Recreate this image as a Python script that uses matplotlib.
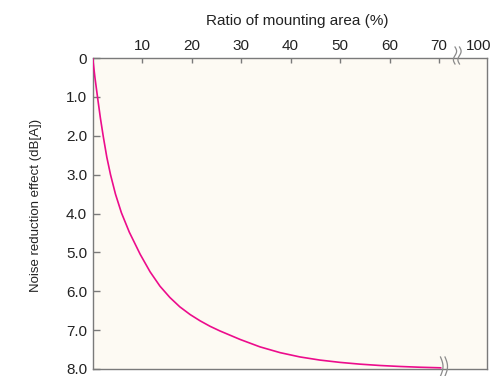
import numpy as np
import matplotlib
matplotlib.use("Agg")
import matplotlib.pyplot as plt

# ---- data ----
ratio = [0, 0.45, 1.0, 1.55, 2.15, 2.85, 3.6, 4.6, 5.8, 7.4, 9.6, 11.6, 13.6, 15.6, 17.6,
         19.7, 21.7, 23.7, 25.7, 29.8, 33.8, 37.9, 41.9, 45.9, 50.0, 54.0, 58.1, 62.1, 66.2, 70.5]
effect = [0, 0.5, 1.03, 1.54, 2.03, 2.55, 3.0, 3.5, 3.98, 4.48, 5.05, 5.5, 5.87, 6.16, 6.4,
          6.6, 6.76, 6.9, 7.02, 7.24, 7.43, 7.58, 7.69, 7.77, 7.83, 7.875, 7.91, 7.935, 7.955, 7.97]
x_ticks = [10, 20, 30, 40, 50, 60, 70]
x_tick_labels = ["10", "20", "30", "40", "50", "60", "70"]
x_end_label = "100"
y_ticks = [0, 1, 2, 3, 4, 5, 6, 7, 8]
y_tick_labels = ["0", "1.0", "2.0", "3.0", "4.0", "5.0", "6.0", "7.0", "8.0"]

plt.rcParams['font.family'] = ['Liberation Sans', 'DejaVu Sans']

W, H = 494, 376
fig = plt.figure(figsize=(W / 100, H / 100), dpi=100)
L, R, T, B = 92.7, 487.0, 58.0, 369.0
ax = fig.add_axes([L / W, 1 - B / H, (R - L) / W, (B - T) / H])
ax.set_facecolor('#fdfaf3')

ax.plot(ratio, effect, color='#ec0c8c', lw=1.2, solid_capstyle='butt',
        solid_joinstyle='round', zorder=3)

ax.set_xlim(0, 79.7)
ax.set_ylim(8, 0)

ax.xaxis.tick_top()
ax.set_xticks(x_ticks + [78.1])
ax.set_xticklabels(x_tick_labels + [x_end_label])
ax.set_yticks(y_ticks)
ax.set_yticklabels(y_tick_labels)

spine_col = '#7a7a7a'
for s in ax.spines.values():
    s.set_color(spine_col)
    s.set_linewidth(1.0)

ax.tick_params(axis='x', direction='in', length=3.6, width=1.0, color=spine_col,
               labelsize=11, labelcolor='#222222', pad=3.5)
ax.tick_params(axis='y', direction='in', length=4.8, width=1.0, color=spine_col,
               labelsize=11, labelcolor='#222222', pad=4)
# no tick mark for the "100" label at the corner
xt = ax.xaxis.get_major_ticks()
xt[-1].tick2line.set_visible(False)
xt[-1].tick1line.set_visible(False)

fig.text(297 / W, 1 - 21 / H, "Ratio of mounting area (%)", ha='center', va='center',
         fontsize=11, color='#222222')
fig.text(36 / W, 1 - 205 / H, "Noise reduction effect (dB[A])", ha='center', va='center',
         rotation=90, fontsize=9.5, color='#222222')

# ---- axis break marks (decoration) ----
aw, ah = R - L, B - T
t = np.linspace(0, 1, 40)
for dx in (0.0, 4.5):
    cx = 455.0 + dx
    ys = 47 + 17 * t
    xs = cx + 1.6 * np.sin(2 * np.pi * t)
    ax.plot((xs - L) / aw, (B - ys) / ah, transform=ax.transAxes, color='#8a8a8a',
            lw=0.9, clip_on=False, zorder=5)
    cx = 440.5 + dx
    ys = 357 + 19 * t
    xs = cx + 2.5 * np.sin(np.pi * t)
    ax.plot((xs - L) / aw, (B - ys) / ah, transform=ax.transAxes, color='#8a8a8a',
            lw=0.9, clip_on=False, zorder=5)

fig.savefig("out.png", dpi=100)
